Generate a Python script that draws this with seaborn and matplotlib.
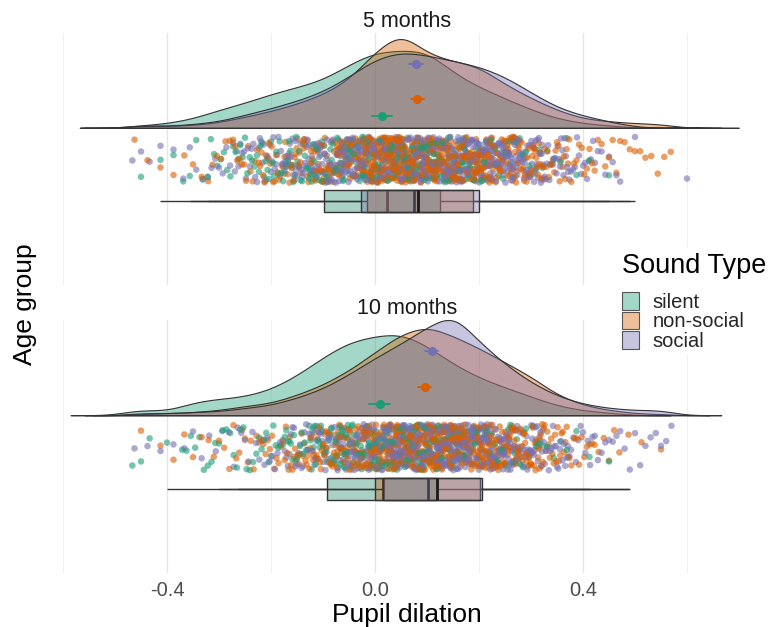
import numpy as np
import pandas as pd
import matplotlib
matplotlib.use("Agg")
import matplotlib.pyplot as plt
from matplotlib.patches import Patch
from matplotlib.colors import to_rgba
import seaborn as sns

# ---------------- data ----------------
age_groups = ["5 months", "10 months"]
sound_types = ["silent", "non-social", "social"]
sound_colors = ["#1B9E77", "#D95F02", "#7570B3"]

# pupil-dilation values, binned: number of observations per 0.05-wide bin
bin_centers = [-0.55, -0.50, -0.45, -0.40, -0.35, -0.30, -0.25, -0.20, -0.15,
               -0.10, -0.05, 0.00, 0.05, 0.10, 0.15, 0.20, 0.25, 0.30, 0.35,
               0.40, 0.45, 0.50, 0.55, 0.60, 0.65]
BIN_WIDTH = 0.05

counts_5m_silent = [0, 0, 1, 2, 4, 8, 11, 15, 18, 21, 28, 34, 34, 35, 24, 18, 13, 8, 4, 2, 1, 0, 0, 0, 0]
counts_5m_nonsocial = [0, 0, 2, 2, 3, 6, 12, 18, 26, 36, 52, 82, 104, 80, 72, 66, 47, 32, 19, 10, 7, 5, 4, 0, 0]
counts_5m_social = [0, 0, 3, 2, 4, 7, 14, 21, 29, 39, 55, 74, 82, 78, 72, 66, 55, 38, 22, 13, 7, 1, 0, 1, 0]

counts_10m_silent = [0, 0, 3, 1, 6, 7, 8, 11, 17, 25, 32, 34, 36, 30, 22, 16, 12, 8, 4, 2, 1, 0, 0, 0, 0]
counts_10m_nonsocial = [0, 0, 1, 2, 3, 5, 9, 12, 20, 30, 44, 62, 80, 88, 78, 66, 52, 38, 20, 10, 5, 2, 1, 0, 0]
counts_10m_social = [0, 0, 2, 2, 3, 4, 7, 10, 17, 26, 40, 56, 70, 86, 100, 72, 50, 32, 19, 11, 7, 5, 5, 0, 0]

tick_values = [-0.4, 0.0, 0.4]
tick_labels = ["-0.4", "0.0", "0.4"]
minor_tick_values = [-0.6, -0.2, 0.2, 0.6]

counts_table = {
    ("5 months", "silent"): counts_5m_silent,
    ("5 months", "non-social"): counts_5m_nonsocial,
    ("5 months", "social"): counts_5m_social,
    ("10 months", "silent"): counts_10m_silent,
    ("10 months", "non-social"): counts_10m_nonsocial,
    ("10 months", "social"): counts_10m_social,
}

rows = []
for (age, sound), counts in counts_table.items():
    for c, k in zip(bin_centers, counts):
        if k > 0:
            vals = c - BIN_WIDTH / 2 + (np.arange(k) + 0.5) * BIN_WIDTH / k
            for v in vals:
                rows.append((age, sound, float(v)))
df = pd.DataFrame(rows, columns=["age", "sound", "value"])

# ---------------- style ----------------
sns.set_theme(style="white")
plt.rcParams["font.family"] = ["Liberation Sans", "DejaVu Sans"]
plt.rcParams["axes.unicode_minus"] = False

palette = dict(zip(sound_types, sound_colors))

W, H = 771, 627
def fx(px):
    return px / W
def fy(py):
    return 1 - py / H

fig = plt.figure(figsize=(W / 100, H / 100), dpi=100)
panel_left, panel_right = 45, 769
panel_tops = [33, 320]
panel_bottoms = [285, 573]
axes = []
for top, bot in zip(panel_tops, panel_bottoms):
    ax = fig.add_axes([fx(panel_left), fy(bot), (panel_right - panel_left) / W, (bot - top) / H])
    axes.append(ax)

# ---- densities (clouds) ----
for ax, age in zip(axes, age_groups):
    sub = df[df["age"] == age]
    for s in sound_types:
        sns.kdeplot(x=sub.loc[sub["sound"] == s, "value"], fill=True, color=palette[s],
                    alpha=0.4, bw_adjust=0.6, cut=3.6, linewidth=0.8,
                    edgecolor="#333333", ax=ax)

dmax = max(p.vertices[:, 1].max() for ax in axes for coll in ax.collections for p in coll.get_paths())
u = dmax / 95.0   # one "pixel" of vertical layout in density units

# layout offsets (in pixels relative to density baseline)
JIT_LO, JIT_HI = -55, -9
BOX_Y, BOX_H = -73.5, 22
mean_offsets = {"silent": 11.5, "non-social": 28.5, "social": 64.0}

rng = np.random.default_rng(11)
xlim = ((panel_left - 375) / 520, (panel_right - 375) / 520)

for ax, age in zip(axes, age_groups):
    sub = df[df["age"] == age].copy()
    sub["jy"] = rng.uniform(JIT_LO, JIT_HI, len(sub)) * u
    sub = sub.iloc[rng.permutation(len(sub))]
    sns.scatterplot(data=sub, x="value", y="jy", hue="sound", hue_order=sound_types,
                    palette=palette, s=22, alpha=0.6, linewidth=0, legend=False, ax=ax)

    sub["box_y"] = BOX_Y * u
    for i, s in enumerate(sound_types):
        n_before = len(ax.patches)
        sns.boxplot(data=sub[sub["sound"] == s], x="value", y="box_y",
                    color=palette[s], orient="h", native_scale=True,
                    width=BOX_H * u, showcaps=False, showfliers=False,
                    linecolor="#333333", linewidth=1.0,
                    medianprops=dict(linewidth=2.0, color="#1A1A1A"),
                    zorder=3 + i, ax=ax)
        for p in ax.patches[n_before:]:
            fc = p.get_facecolor()
            p.set_facecolor((fc[0], fc[1], fc[2], 0.4))

    sub["mean_y"] = sub["sound"].map(mean_offsets) * u
    sns.pointplot(data=sub, x="value", y="mean_y", hue="sound", hue_order=sound_types,
                  palette=palette, orient="h", native_scale=True, dodge=False,
                  errorbar=("se", 1.96), linestyle="none", markers="o",
                  markersize=5.5, linewidth=1.4, err_kws={"linewidth": 1.4},
                  legend=False, ax=ax)

    ax.set_xlim(*xlim)
    ax.set_ylim(-157.5 * u, 95 * u)
    ax.set_xlabel("")
    ax.set_ylabel("")
    ax.set_yticks([])
    ax.set_xticks(tick_values)
    ax.set_xticks(minor_tick_values, minor=True)
    ax.grid(False)
    ax.grid(axis="x", which="major", color="#E6E6E6", linewidth=1.0)
    ax.grid(axis="x", which="minor", color="#EFEFEF", linewidth=0.7)
    ax.set_axisbelow(True)
    ax.tick_params(axis="both", which="both", length=0)
    for sp in ax.spines.values():
        sp.set_visible(False)
    ax.annotate(age, xy=(0.5, 1), xycoords="axes fraction", xytext=(0, 4.3),
                textcoords="offset points", ha="center", va="baseline",
                fontsize=15.5, color="#1A1A1A")

axes[0].set_xticklabels([])
axes[1].set_xticklabels(tick_labels)
axes[1].tick_params(axis="x", labelsize=14.5, labelcolor="#4D4D4D", pad=5.5)

fig.text(fx(407), fy(622), "Pupil dilation", ha="center", va="baseline", fontsize=19, color="black")
fig.text(fx(25), fy(304), "Age group", ha="center", va="center", rotation=90, fontsize=19, color="black")

# ---- legend ----
fig.text(fx(622), fy(273), "Sound Type", ha="left", va="baseline", fontsize=19.5, color="black",
         bbox=dict(facecolor="white", edgecolor="none", pad=4))
handles = [Patch(facecolor=to_rgba(c, 0.4), edgecolor="#555555", linewidth=0.8) for c in sound_colors]
fig.legend(handles, sound_types, loc="upper left", bbox_to_anchor=(fx(618), fy(288)),
           bbox_transform=fig.transFigure, frameon=True, facecolor="white", edgecolor="none",
           framealpha=1, borderpad=0.2, borderaxespad=0, fontsize=14.5,
           handlelength=0.82, handleheight=0.97, handletextpad=0.7, labelspacing=0.0)

fig.savefig("out.png", dpi=100, facecolor="white")
